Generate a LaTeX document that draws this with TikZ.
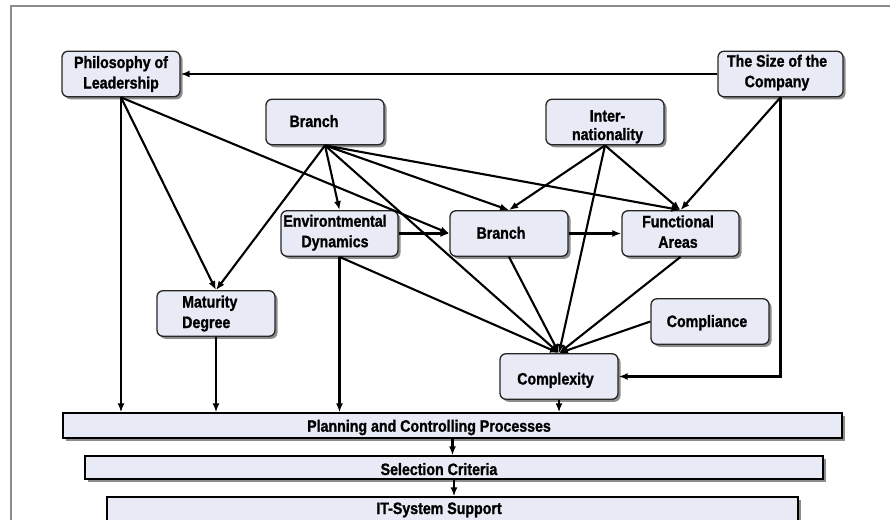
\documentclass[tikz,border=0pt]{standalone}
\usepackage{fontspec}
\setmainfont{Liberation Sans}[FakeStretch=0.86,BoldFeatures={FakeBold=1.2}]
\usetikzlibrary{arrows.meta,shadows}
\definecolor{boxfill}{RGB}{232,234,246}
\definecolor{framegray}{RGB}{140,140,140}
\begin{document}
\begin{tikzpicture}[x=1pt,y=-1pt,
  shad/.style={drop shadow={shadow xshift=2.5pt,shadow yshift=-2.5pt,opacity=0.45,fill=black}},
  box/.style={draw=black!85,line width=1.3pt,rounded corners=6pt,fill=boxfill,inner sep=0pt,
    minimum width=118pt,minimum height=45.5pt,shad},
  bar/.style={draw=black,line width=1.3pt,fill=boxfill,inner sep=0pt,shad},
  lbl/.style={font=\bfseries\fontsize{16.5}{20.5}\selectfont,inner sep=0pt,anchor=base,align=center,text=black},
  arr/.style={line width=2.1pt,-{Latex[length=9pt,width=7pt]}}]
\clip (0,0) rectangle (890,519);
\fill[white] (0,0) rectangle (890,519);
\draw[framegray,line width=1.6pt] (11,530) -- (11,6) -- (895,6);

% boxes
\node[box] (phil) at (121,74) {};
\node[box] (br1) at (325,122) {};
\node[box,minimum width=117pt] (env) at (339.5,233.5) {};
\node[box,minimum width=125pt] (size) at (780.5,74) {};
\node[box] (intl) at (605,122) {};
\node[box] (br2) at (509,233.5) {};
\node[box,minimum width=117pt] (func) at (680.5,233.5) {};
\node[box] (mat) at (216,313.5) {};
\node[box] (comp) at (710,321.5) {};
\node[box] (cplx) at (559,376.5) {};
\node[bar,minimum width=779pt,minimum height=25pt] (pcp) at (452.5,425.5) {};
\node[bar,minimum width=738pt,minimum height=23pt] (sel) at (454,467.5) {};
\node[bar,minimum width=691pt,minimum height=24pt] (its) at (452.5,509) {};

% labels (anchor base = baseline of the last line)
\node[lbl] (tphil) at (121,88.5) {Philosophy of\\Leadership};
\node[lbl] (tbr1) at (314,127) {Branch};
\node[lbl] (tenv) at (335,247.2) {Environtmental\\Dynamics};
\node[lbl] (tsize) at (777,87.2) {The Size of the\\Company};
\node[lbl] (tintl) at (607.5,140) {Inter-\\[-2pt]nationality};
\node[lbl] (tbr2) at (501,238.7) {Branch};
\node[lbl] (tfunc) at (678,247.8) {Functional\\Areas};
\node[lbl,anchor=base west,align=left] (tmat) at (182,328) {Maturity\\Degree};
\node[lbl] (tcomp) at (707,327) {Compliance};
\node[lbl] (tcplx) at (555.5,384.5) {Complexity};
\node[lbl] (tpcp) at (429,431.7) {Planning and Controlling Processes};
\node[lbl] (tsel) at (439,475) {Selection Criteria};
\node[lbl] (tits) at (439,514) {IT-System Support};

% connectors
\draw[arr] (size.west) -- (phil.east);
\draw[arr] (phil.south) -- (phil.south |- pcp.north);
\draw[arr] (phil.south) -- (mat.north);
\draw[arr] (phil.south) -- (br2.west);
\draw[arr] (br1.south) -- (mat.north);
\draw[arr] (br1.south) -- (env.north);
\draw[arr] (br1.south) -- (br2.north);
\draw[arr] (br1.south) -- (func.north);
\draw[arr] (br1.south) -- (cplx.north);
\draw[arr] (env.east) -- (br2.west);
\draw[arr] (env.south) -- (env.south |- pcp.north);
\draw[arr] (env.south) -- (cplx.north);
\draw[arr] (br2.east) -- (func.west);
\draw[arr] (br2.south) -- (cplx.north);
\draw[arr] (intl.south) -- (br2.north);
\draw[arr] (intl.south) -- (func.north);
\draw[arr] (intl.south) -- (cplx.north);
\draw[arr] (size.south) -- (func.north);
\draw[arr] (size.south) |- (cplx.east);
\draw[arr] (func.south) -- (cplx.north);
\draw[arr] (comp.west) -- (cplx.north);
\draw[arr] (mat.south) -- (mat.south |- pcp.north);
\draw[arr] (cplx.south) -- (cplx.south |- pcp.north);
\draw[arr] (pcp.south) -- (pcp.south |- sel.north);
\draw[arr] (sel.south) -- (sel.south |- its.north);
\end{tikzpicture}
\end{document}
